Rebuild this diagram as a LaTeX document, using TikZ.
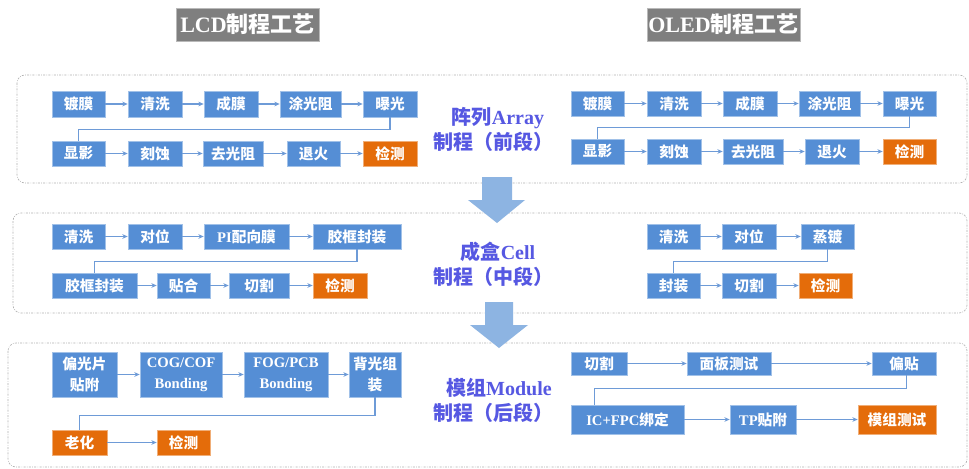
\documentclass[tikz,border=0pt]{standalone}
\usepackage{fontspec}
\setmainfont{Liberation Serif}
\newfontfamily\cjk{Noto Sans CJK SC}
\usetikzlibrary{arrows.meta}
\definecolor{boxblue}{RGB}{85,142,213}
\definecolor{boxorange}{RGB}{228,108,10}
\definecolor{lineblue}{RGB}{110,155,215}
\definecolor{bigarrow}{RGB}{141,180,226}
\definecolor{labelc}{RGB}{86,88,226}
\definecolor{titlegray}{RGB}{127,127,127}
\newcommand\zh[1]{{\cjk\bfseries #1}}
\begin{document}
\begin{tikzpicture}[x=0.75pt,y=-0.75pt,
  bx/.style n args={4}{fill=boxblue, draw=boxblue!55!white, line width=0.5pt, text=white,
    font=\fontsize{11}{16}\selectfont\bfseries, inner sep=0pt, align=center,
    minimum width={(#3-#1)*0.75pt}, minimum height={(#4-#2)*0.75pt},
    at={({(#1+#3)/2},{(#2+#4)/2})}},
  ox/.style n args={4}{bx={#1}{#2}{#3}{#4}, fill=boxorange, draw=boxorange!55!white},
  conn/.style={draw=lineblue, line width=0.9pt, -{Stealth[length=4pt,width=3.5pt]}},
  elb/.style={draw=lineblue, line width=0.9pt},
  frame/.style={draw=gray!60, line width=0.5pt, dash pattern=on 1.5pt off 1pt on 0.5pt off 1pt, rounded corners=6pt},
  lbl/.style={text=labelc, font=\fontsize{15}{17}\selectfont\bfseries, inner sep=0pt},
  ttl/.style={fill=titlegray, draw=gray!55, text=white, inner sep=0pt, font=\fontsize{16.5}{18}\selectfont\bfseries}
]
\fill[white] (0,0) rectangle (969,468);
\useasboundingbox (0,0) rectangle (969,468);

% titles
\node[ttl, minimum width={143*0.75pt}, minimum height={33*0.75pt}] (t1) at (247.5,24.5) {LCD\zh{制程工艺}};
\node[ttl, minimum width={153*0.75pt}, minimum height={33*0.75pt}] (t2) at (723.5,24.5) {OLED\zh{制程工艺}};

% frames
\draw[frame] (17,75) rectangle (967,183);
\draw[frame] (13,213) rectangle (967,313);
\draw[frame] (8,343) rectangle (967,467);

% big arrows
\fill[bigarrow] (482,177) -- (512,177) -- (512,200) -- (525,200) -- (497,223) -- (468,200) -- (482,200) -- cycle;
\fill[bigarrow] (485,302) -- (513,302) -- (513,325) -- (528,325) -- (499,348) -- (470,325) -- (485,325) -- cycle;

% stage labels
\node[lbl] (s1a) at (498,118) {\zh{阵列}Array};
\node[lbl] (s1b) at (493,142) {\zh{制程（前段）}};
\node[lbl] (s2a) at (498,252) {\zh{成盒}Cell};
\node[lbl] (s2b) at (493,277) {\zh{制程（中段）}};
\node[lbl] (s3a) at (499,388) {\zh{模组}Module};
\node[lbl] (s3b) at (493,413) {\zh{制程（后段）}};

% ---------- LCD array ----------
\node[bx={52}{91}{105}{117}] (la1) {\zh{镀膜}};
\node[bx={128}{91}{182}{117}] (la2) {\zh{清洗}};
\node[bx={204}{91}{258}{117}] (la3) {\zh{成膜}};
\node[bx={280}{91}{341}{117}] (la4) {\zh{涂光阻}};
\node[bx={363}{91}{417}{117}] (la5) {\zh{曝光}};
\node[bx={52}{141}{105}{166}] (la6) {\zh{显影}};
\node[bx={128}{141}{182}{166}] (la7) {\zh{刻蚀}};
\node[bx={203}{141}{263}{166}] (la8) {\zh{去光阻}};
\node[bx={287}{141}{340}{166}] (la9) {\zh{退火}};
\node[ox={363}{141}{417}{166}] (la10) {\zh{检测}};
\draw[conn] (la1) -- (la2);
\draw[conn] (la2) -- (la3);
\draw[conn] (la3) -- (la4);
\draw[conn] (la4) -- (la5);
\draw[elb] (la5.south) -- ++(0,12) -| (la6.north);
\draw[conn] (la6) -- (la7);
\draw[conn] (la7) -- (la8);
\draw[conn] (la8) -- (la9);
\draw[conn] (la9) -- (la10);

% ---------- OLED array ----------
\node[bx={571}{91}{624}{116}] (oa1) {\zh{镀膜}};
\node[bx={647}{91}{701}{116}] (oa2) {\zh{清洗}};
\node[bx={723}{91}{777}{116}] (oa3) {\zh{成膜}};
\node[bx={799}{91}{860}{116}] (oa4) {\zh{涂光阻}};
\node[bx={883}{91}{936}{116}] (oa5) {\zh{曝光}};
\node[bx={571}{139}{624}{164}] (oa6) {\zh{显影}};
\node[bx={647}{139}{701}{164}] (oa7) {\zh{刻蚀}};
\node[bx={723}{139}{783}{164}] (oa8) {\zh{去光阻}};
\node[bx={805}{139}{859}{164}] (oa9) {\zh{退火}};
\node[ox={883}{139}{936}{164}] (oa10) {\zh{检测}};
\draw[conn] (oa1) -- (oa2);
\draw[conn] (oa2) -- (oa3);
\draw[conn] (oa3) -- (oa4);
\draw[conn] (oa4) -- (oa5);
\draw[elb] (oa5.south) -- ++(0,11) -| (oa6.north);
\draw[conn] (oa6) -- (oa7);
\draw[conn] (oa7) -- (oa8);
\draw[conn] (oa8) -- (oa9);
\draw[conn] (oa9) -- (oa10);

% ---------- LCD cell ----------
\node[bx={52}{224}{105}{249}] (lc1) {\zh{清洗}};
\node[bx={128}{224}{182}{249}] (lc2) {\zh{对位}};
\node[bx={204}{224}{289}{249}] (lc3) {PI\zh{配向膜}};
\node[bx={313}{224}{401}{249}] (lc4) {\zh{胶框封装}};
\node[bx={52}{273}{137}{298}] (lc5) {\zh{胶框封装}};
\node[bx={157}{273}{210}{298}] (lc6) {\zh{贴合}};
\node[bx={229}{273}{289}{298}] (lc7) {\zh{切割}};
\node[ox={313}{273}{367}{298}] (lc8) {\zh{检测}};
\draw[conn] (lc1) -- (lc2);
\draw[conn] (lc2) -- (lc3);
\draw[conn] (lc3) -- (lc4);
\draw[elb] (lc4.south) -- ++(0,12) -| (lc5.north);
\draw[conn] (lc5) -- (lc6);
\draw[conn] (lc6) -- (lc7);
\draw[conn] (lc7) -- (lc8);

% ---------- OLED cell ----------
\node[bx={647}{224}{700}{249}] (oc1) {\zh{清洗}};
\node[bx={722}{224}{776}{249}] (oc2) {\zh{对位}};
\node[bx={801}{224}{854}{249}] (oc3) {\zh{蒸镀}};
\node[bx={647}{273}{700}{298}] (oc4) {\zh{封装}};
\node[bx={722}{273}{776}{298}] (oc5) {\zh{切割}};
\node[ox={799}{273}{852}{298}] (oc6) {\zh{检测}};
\draw[conn] (oc1) -- (oc2);
\draw[conn] (oc2) -- (oc3);
\draw[elb] (oc3.south) -- ++(0,12) -| (oc4.north);
\draw[conn] (oc4) -- (oc5);
\draw[conn] (oc5) -- (oc6);

% ---------- LCD module ----------
\node[bx={52}{352}{117}{397}] (lm1) {\zh{偏光片}\\\zh{贴附}};
\node[bx={140}{352}{222}{397}] (lm2) {COG/COF\\Bonding};
\node[bx={244}{352}{328}{397}] (lm3) {FOG/PCB\\Bonding};
\node[bx={349}{352}{401}{397}] (lm4) {\zh{背光组}\\\zh{装}};
\node[ox={52}{430}{107}{455}] (lm5) {\zh{老化}};
\node[ox={157}{430}{210}{455}] (lm6) {\zh{检测}};
\draw[conn] (lm1) -- (lm2);
\draw[conn] (lm2) -- (lm3);
\draw[conn] (lm3) -- (lm4);
\draw[elb] (lm4.south) -- ++(0,18) -| (lm5.north);
\draw[conn] (lm5) -- (lm6);

% ---------- OLED module ----------
\node[bx={571}{352}{627}{375}] (om1) {\zh{切割}};
\node[bx={687}{352}{771}{375}] (om2) {\zh{面板测试}};
\node[bx={872}{352}{936}{375}] (om3) {\zh{偏贴}};
\node[bx={571}{405}{684}{434}] (om4) {IC+FPC\zh{绑定}};
\node[bx={730}{405}{796}{434}] (om5) {TP\zh{贴附}};
\node[ox={858}{405}{936}{434}] (om6) {\zh{模组测试}};
\draw[conn] (om1) -- (om2);
\draw[conn] (om2) -- (om3);
\draw[elb] ([xshift=2pt]om3.south) -- ++(0,13) -| ([xshift=18pt]om4.north west);
\draw[conn] (om4) -- (om5);
\draw[conn] (om5) -- (om6);
\end{tikzpicture}
\end{document}
